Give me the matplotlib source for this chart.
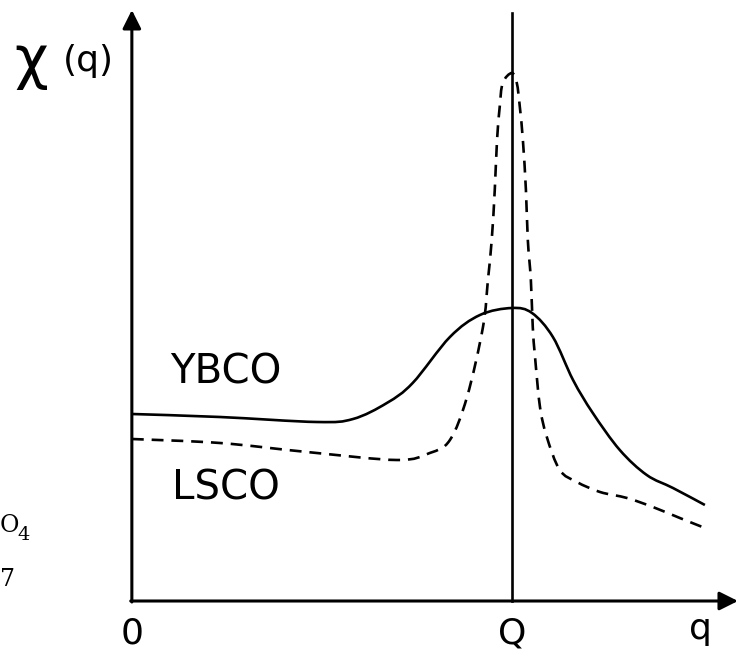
"""Schematic susceptibility chi(q) for YBCO and LSCO near the wave vector Q."""
import matplotlib.pyplot as plt
import numpy as np
from matplotlib.patches import PathPatch
from matplotlib.path import Path

# q in units of Q, chi(q) in arbitrary units
ybco_q = [0.0, 0.232, 0.487, 0.582, 0.671, 0.739, 0.837, 0.916, 1.0, 1.053,
          1.108, 1.161, 1.213, 1.284, 1.355, 1.424, 1.508]
ybco_chi = [1.87, 1.84, 1.79, 1.82, 1.98, 2.18, 2.64, 2.86, 2.93, 2.88,
            2.64, 2.21, 1.88, 1.51, 1.26, 1.13, 0.96]

lsco_q = [0.0, 0.232, 0.461, 0.697, 0.784, 0.837, 0.882, 0.924, 0.937, 0.947,
          0.955, 0.961, 0.968, 0.976, 1.0, 1.013, 1.021, 1.029, 1.037, 1.042,
          1.050, 1.055, 1.061, 1.074, 1.092, 1.126, 1.171, 1.232, 1.303, 1.371,
          1.442, 1.508]
lsco_chi = [1.62, 1.58, 1.49, 1.41, 1.48, 1.61, 2.04, 2.74, 3.21, 3.61,
            4.11, 4.61, 4.94, 5.18, 5.28, 5.18, 4.94, 4.61, 4.11, 3.61,
            3.21, 2.74, 2.44, 1.94, 1.64, 1.31, 1.19, 1.09, 1.03, 0.94,
            0.83, 0.73]

q_ticks = [0.0, 1.0]
q_tick_labels = ["0", "Q"]


def smooth_path(x, y):
    """Catmull-Rom curve through the points, as cubic Bezier segments."""
    pts = np.column_stack([x, y])
    ext = np.vstack([pts[0], pts, pts[-1]])
    verts = [pts[0]]
    codes = [Path.MOVETO]
    for i in range(1, len(ext) - 2):
        p0, p1, p2, p3 = ext[i - 1], ext[i], ext[i + 1], ext[i + 2]
        verts += [p1 + (p2 - p0) / 6, p2 - (p3 - p1) / 6, p2]
        codes += [Path.CURVE4] * 3
    return Path(verts, codes)


def main():
    fig = plt.figure(figsize=(7.41, 6.52), dpi=100)
    ax = fig.add_axes([0, 0, 1, 1])
    ax.set_xlim(-0.347, 1.603)
    ax.set_ylim(-0.51, 6.01)
    ax.axis("off")

    arrow = dict(arrowstyle="-|>", lw=2.2, color="black", mutation_scale=28,
                 shrinkA=0, shrinkB=0)
    # axes with arrow heads
    ax.annotate("", xy=(0, 5.91), xytext=(0, -0.01), arrowprops=arrow)
    ax.annotate("", xy=(1.595, 0.0), xytext=(-0.003, 0), arrowprops=arrow)

    # vertical line at Q
    ax.plot([1.0, 1.0], [0, 5.88], color="black", lw=1.9)

    ax.add_patch(PathPatch(smooth_path(ybco_q, ybco_chi), fill=False,
                           edgecolor="black", lw=1.9))
    ax.add_patch(PathPatch(smooth_path(lsco_q, lsco_chi), fill=False,
                           edgecolor="black", lw=1.9,
                           linestyle=(0, (4.5, 3.0))))

    ax.text(-0.266, 5.39, "χ", fontsize=42, ha="center", va="center")
    ax.text(-0.115, 5.40, "(q)", fontsize=26, ha="center", va="center")

    ax.text(0.100, 2.28, "YBCO", fontsize=29, ha="left", va="center")
    ax.text(0.105, 1.12, "LSCO", fontsize=29, ha="left", va="center")

    for q, lab in zip(q_ticks, q_tick_labels):
        ax.text(q, -0.42, lab, fontsize=26, ha="center", va="baseline")
    ax.text(1.495, -0.38, "q", fontsize=26, ha="center", va="baseline")

    # clipped formula fragments at the left margin
    ax.text(-0.347, 0.75, "O", fontsize=17, family="DejaVu Serif",
            ha="left", va="center")
    ax.text(-0.30, 0.66, "4", fontsize=14, family="DejaVu Serif",
            ha="left", va="center")
    ax.text(-0.347, 0.21, "7", fontsize=17, family="DejaVu Serif",
            ha="left", va="center")

    fig.savefig("out.png", dpi=100)


if __name__ == "__main__":
    main()
